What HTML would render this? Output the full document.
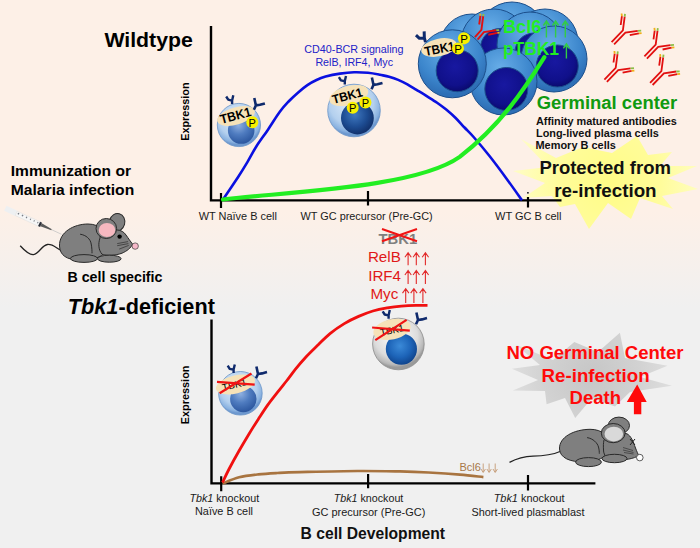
<!DOCTYPE html>
<html><head><meta charset="utf-8">
<style>
html,body{margin:0;padding:0;width:700px;height:548px;overflow:hidden;background:#f0f0f0}
svg{display:block}
text{font-family:"Liberation Sans",sans-serif}
.b{font-weight:bold}
</style></head><body>
<svg width="700" height="548" viewBox="0 0 700 548">
<defs>
<linearGradient id="bg" x1="0" y1="212" x2="0" y2="308" gradientUnits="userSpaceOnUse">
<stop offset="0" stop-color="#fdf0e7"/><stop offset="1" stop-color="#f0f0f0"/>
</linearGradient>
<radialGradient id="cellOut" cx="0.45" cy="0.35" r="0.6">
<stop offset="0" stop-color="#e2eefa"/><stop offset="0.7" stop-color="#b4d0ee"/><stop offset="0.92" stop-color="#8ab2e0"/><stop offset="1" stop-color="#6d98cf"/>
</radialGradient>
<radialGradient id="cellGray" cx="0.45" cy="0.35" r="0.6">
<stop offset="0" stop-color="#ffffff"/><stop offset="0.7" stop-color="#dcdcdc"/><stop offset="0.92" stop-color="#b8b8b8"/><stop offset="1" stop-color="#9a9a9a"/>
</radialGradient>
<radialGradient id="nucA" cx="0.4" cy="0.3" r="0.7">
<stop offset="0" stop-color="#8fb0e0"/><stop offset="0.5" stop-color="#4f7cc0"/><stop offset="1" stop-color="#2d58a0"/>
</radialGradient>
<radialGradient id="nucB" cx="0.42" cy="0.4" r="0.62">
<stop offset="0" stop-color="#3f78c0"/><stop offset="0.6" stop-color="#1d4c92"/><stop offset="1" stop-color="#11306a"/>
</radialGradient>
<radialGradient id="nucC" cx="0.45" cy="0.4" r="0.6">
<stop offset="0" stop-color="#3b8ad8"/><stop offset="0.6" stop-color="#1d64b8"/><stop offset="1" stop-color="#10458e"/>
</radialGradient>
<radialGradient id="gcOut" cx="0.45" cy="0.3" r="0.65">
<stop offset="0" stop-color="#68aee8"/><stop offset="0.7" stop-color="#3c86cc"/><stop offset="1" stop-color="#2e6fb6"/>
</radialGradient>
<radialGradient id="gcNuc" cx="0.45" cy="0.4" r="0.6">
<stop offset="0" stop-color="#1818a0"/><stop offset="0.75" stop-color="#10108a"/><stop offset="1" stop-color="#0a0a6e"/>
</radialGradient>
<radialGradient id="starY" cx="610" cy="182" r="95" gradientUnits="userSpaceOnUse">
<stop offset="0" stop-color="#fffc86"/><stop offset="0.5" stop-color="#fffc98"/><stop offset="1" stop-color="#fffdc4"/>
</radialGradient>
<radialGradient id="starG" cx="592" cy="375" r="80" gradientUnits="userSpaceOnUse">
<stop offset="0" stop-color="#c6c6c6"/><stop offset="0.6" stop-color="#d2d2d2"/><stop offset="1" stop-color="#dedede"/>
</radialGradient>
<path id="abN" d="M-5.6,-3.9 L-3.6,-0.7 L0,0.2 M1.5,-5.1 L0.3,0 L0.3,3.5" fill="none" stroke="#0f2a6c" stroke-width="2.4" stroke-linejoin="round"/>
<path id="abT" d="M-1.6,-7.4 L0,0 L4,-0.6 L9,-2 M0,0 L-2,4.3" fill="none" stroke="#0f2a6c" stroke-width="2.6" stroke-linejoin="round"/>
<g id="abR" fill="none" stroke-width="1.8">
<path d="M-12.4,10.6 L-1.1,-1.1 L0.7,-14.9 M-9.9,12.8 L1.4,1.1 L13.8,-0.7 M-3.3,-6.5 L-2.1,-15.3 M5.8,3.7 L14.9,1.9" stroke="#e21010"/>
<path d="M0.7,-14.9 L1,-17.6 M13.8,-0.7 L17.2,-0.9" stroke="#8cbf48"/>
<path d="M-2.1,-15.3 L-2.4,-18 M14.9,1.9 L17.6,1.6" stroke="#f0b018"/>
</g>
</defs>
<rect x="0" y="0" width="700" height="548" fill="url(#bg)"/>

<!-- yellow star -->
<polygon points="521,139 556,158 583,147 612,153 637,136 648,155 672,152 660,166 697,166 668,178 698,189 662,196 673,209 640,198 631,219 608,203 589,229 575,204 560,207 552,196 523,198 545,183 513,171 548,167" fill="url(#starY)"/>

<!-- ===== TOP CHART ===== -->
<path d="M211,26 L211,200.4 L561.5,200.4" fill="none" stroke="#000" stroke-width="2.4"/>
<rect x="527" y="192" width="1.8" height="1.6" fill="#333"/>
<path d="M221,193 L221,208 M368,191 L368,205.5 M528,197 L528,207.5" stroke="#000" stroke-width="2.2"/>

<text x="104.4" y="46.6" class="b" font-size="21" textLength="88.4" lengthAdjust="spacingAndGlyphs">Wildtype</text>
<text x="10.8" y="176.2" class="b" font-size="15.3" textLength="120.2" lengthAdjust="spacingAndGlyphs">Immunization or</text>
<text x="10.8" y="195" class="b" font-size="15.3" textLength="123.4" lengthAdjust="spacingAndGlyphs">Malaria infection</text>
<text x="67.4" y="281.9" class="b" font-size="14.6" textLength="95.1" lengthAdjust="spacingAndGlyphs">B cell specific</text>
<text x="67.8" y="313.7" class="b" font-size="21.5" textLength="147.1" lengthAdjust="spacingAndGlyphs"><tspan font-style="italic">Tbk1</tspan>-deficient</text>

<text transform="translate(188.5,111.6) rotate(-90)" text-anchor="middle" class="b" font-size="11" textLength="58.4" lengthAdjust="spacingAndGlyphs">Expression</text>
<text transform="translate(188.5,394.9) rotate(-90)" text-anchor="middle" class="b" font-size="11" textLength="58.7" lengthAdjust="spacingAndGlyphs">Expression</text>

<g font-size="11" fill="#1a1a1a">
<text x="198.7" y="220" textLength="78.3" lengthAdjust="spacingAndGlyphs">WT Naïve B cell</text>
<text x="300.6" y="219.7" textLength="132.1" lengthAdjust="spacingAndGlyphs">WT GC precursor (Pre-GC)</text>
<text x="495" y="220" textLength="66.5" lengthAdjust="spacingAndGlyphs">WT GC B cell</text>
</g>

<g font-size="10.7" fill="#2222c8">
<text x="304.3" y="53" textLength="99.3" lengthAdjust="spacingAndGlyphs">CD40-BCR signaling</text>
<text x="315.4" y="65.6" textLength="77.6" lengthAdjust="spacingAndGlyphs">RelB, IRF4, Myc</text>
</g>

<!-- GC cluster -->
<g stroke="#1c4f8c" stroke-width="1">
<circle cx="512" cy="36" r="34" fill="url(#gcOut)"/>
<circle cx="472" cy="46" r="32" fill="url(#gcOut)"/>
<circle cx="545" cy="42" r="33" fill="url(#gcOut)"/>
<circle cx="494" cy="42" r="33" fill="url(#gcOut)"/>
<circle cx="500" cy="48" r="19.5" fill="url(#gcNuc)"/>
<circle cx="530" cy="45" r="33" fill="url(#gcOut)"/>
<circle cx="534" cy="52" r="19" fill="url(#gcNuc)"/>
<circle cx="554" cy="59" r="33" fill="url(#gcOut)"/>
<circle cx="557.3" cy="66" r="21" fill="url(#gcNuc)"/>
<circle cx="503.5" cy="81.5" r="33.5" fill="url(#gcOut)"/>
<circle cx="506.3" cy="89" r="21.5" fill="url(#gcNuc)"/>
<circle cx="452.3" cy="63.8" r="34" fill="url(#gcOut)"/>
<circle cx="457.2" cy="70.7" r="21" fill="url(#gcNuc)"/>
</g>
<g transform="translate(482.5,31)" fill="none" stroke-width="1.9">
<path d="M-7.6,6.2 L-1.1,-1.1 L0.7,-14.9 M-4.9,8.6 L1.4,1.1 L13.8,-0.7 M-3.3,-6.5 L-2.1,-15.3 M5.8,3.7 L14.9,1.9" stroke="#e21010"/>
<path d="M0.7,-14.9 L0.95,-17 M13.8,-0.7 L16.8,-0.9" stroke="#8cbf48"/>
<path d="M-2.1,-15.3 L-2.35,-17.4 M14.9,1.9 L17.1,1.6" stroke="#f0b018"/>
</g>
<ellipse cx="439" cy="47.5" rx="18" ry="8.8" transform="rotate(-12 439 47.5)" fill="#f6e2b8"/>
<text transform="translate(425.5,56) rotate(-11)" class="b" font-size="13" textLength="30.5" lengthAdjust="spacingAndGlyphs">TBK1</text>
<circle cx="464" cy="38.3" r="6.1" fill="#f8f000"/>
<circle cx="458" cy="48.5" r="6" fill="#f8f000"/>
<text x="460.3" y="42.8" font-size="11.5">P</text>
<text x="454.3" y="53.2" font-size="11.5">P</text>
<use href="#abN" transform="translate(424,38) rotate(-15) scale(1.25)"/>

<!-- Bcl6 / pTBK1 -->
<g fill="#22ee22" class="b">
<text x="503" y="32.9" font-size="19" textLength="38.3" lengthAdjust="spacingAndGlyphs">Bcl6</text>
<text x="503" y="55.1" font-size="19" textLength="56" lengthAdjust="spacingAndGlyphs">pTBK1</text>
</g>
<g stroke="#33cc44" stroke-width="1.4" fill="none">
<path d="M546.4,37.4 V21.5 M543.4,25.5 L546.4,21 L549.4,25.5"/>
<path d="M555.6,37.4 V21.5 M552.6,25.5 L555.6,21 L558.6,25.5"/>
<path d="M565.3,37.4 V21.5 M562.3,25.5 L565.3,21 L568.3,25.5"/>
<path d="M566.4,58.6 V44.3 M563.4,48.3 L566.4,43.8 L569.4,48.3"/>
</g>

<!-- red antibodies -->
<use href="#abR" transform="translate(624,31.5)"/>
<use href="#abR" transform="translate(656.8,45.8)"/>
<use href="#abR" transform="translate(616.8,69)"/>
<use href="#abR" transform="translate(662.5,72.2)"/>

<!-- Germinal center texts -->
<text x="536.7" y="109.4" class="b" font-size="18" fill="#109a10" textLength="140.6" lengthAdjust="spacingAndGlyphs">Germinal center</text>
<g class="b" font-size="11" fill="#111">
<text x="536" y="124.5" textLength="140.8" lengthAdjust="spacingAndGlyphs">Affinity matured antibodies</text>
<text x="536" y="136.5" textLength="122.8" lengthAdjust="spacingAndGlyphs">Long-lived plasma cells</text>
<text x="535.5" y="149.4" textLength="80.3" lengthAdjust="spacingAndGlyphs">Memory B cells</text>
</g>
<g class="b" font-size="18.5" fill="#111">
<text x="539.4" y="174.3" textLength="131.5" lengthAdjust="spacingAndGlyphs">Protected from</text>
<text x="554.3" y="196.6" textLength="102.3" lengthAdjust="spacingAndGlyphs">re-infection</text>
</g>

<!-- cell 1 (WT naive) -->
<circle cx="238.9" cy="125" r="21.6" fill="url(#cellOut)" stroke="#6a94c8" stroke-width="0.8"/>
<circle cx="241.2" cy="130.5" r="13.3" fill="url(#nucA)"/>
<ellipse cx="236" cy="116" rx="19.5" ry="8.7" transform="rotate(-16 236 116)" fill="#f6e2b8"/>
<text transform="translate(221.5,124) rotate(-15)" class="b" font-size="13" textLength="31.5" lengthAdjust="spacingAndGlyphs">TBK1</text>
<circle cx="252.3" cy="122.3" r="6" fill="#f8f000"/>
<text x="248.6" y="126.8" font-size="11">P</text>
<use href="#abN" transform="translate(231.8,100.4)"/><use href="#abT" transform="translate(255.9,105.4)"/>

<!-- cell 2 (WT pre-GC) -->
<circle cx="354" cy="110.5" r="26.3" fill="url(#cellOut)" stroke="#6a94c8" stroke-width="0.8"/>
<circle cx="357.4" cy="118" r="16.4" fill="url(#nucB)"/>
<ellipse cx="348.8" cy="95.5" rx="20" ry="9.5" transform="rotate(-15 348.8 95.5)" fill="#f6e2b8"/>
<text transform="translate(333.5,104) rotate(-15)" class="b" font-size="12.5" textLength="31" lengthAdjust="spacingAndGlyphs">TBK1</text>
<circle cx="352.7" cy="107.7" r="6" fill="#f8f000"/>
<circle cx="365.4" cy="102.6" r="6" fill="#f8f000"/>
<text x="349" y="112.3" font-size="11">P</text>
<text x="361.7" y="107.2" font-size="11">P</text>
<use href="#abN" transform="translate(344.5,81)"/><use href="#abT" transform="translate(373.5,84.9)"/>

<!-- curves top -->
<path d="M223.0,199.5 C225.6,195.7 234.2,182.9 238.3,176.7 C242.4,170.5 244.4,167.1 247.4,162.1 C250.4,157.1 252.9,151.9 256.3,146.5 C259.7,141.1 263.9,135.7 267.8,129.9 C271.8,124.1 276.4,116.3 280.0,111.5 C283.6,106.7 286.1,104.2 289.1,101.0 C292.1,97.8 295.1,95.1 298.2,92.4 C301.2,89.8 304.3,87.2 307.4,85.1 C310.4,83.0 313.5,81.4 316.5,80.0 C319.5,78.6 321.7,77.7 325.6,76.6 C329.5,75.5 335.3,74.3 340.0,73.6 C344.7,72.9 349.3,72.4 354.0,72.3 C358.7,72.2 363.7,72.4 368.0,72.8 C372.3,73.2 376.5,74.1 380.0,74.8 C383.5,75.5 386.1,75.8 389.1,76.7 C392.1,77.6 395.1,78.6 398.2,79.9 C401.2,81.2 404.3,82.7 407.4,84.4 C410.4,86.1 413.5,88.1 416.5,89.9 C419.5,91.7 422.2,93.2 425.6,95.4 C429.0,97.6 433.7,100.4 437.1,102.8 C440.5,105.2 443.1,107.1 446.2,109.6 C449.2,112.1 452.3,114.8 455.4,117.8 C458.4,120.8 461.5,124.3 464.5,127.5 C467.5,130.7 469.4,132.2 473.6,137.0 C477.8,141.8 483.9,148.9 489.5,156.0 C495.1,163.1 501.7,172.0 507.1,179.4 C512.5,186.8 519.5,196.8 522.0,200.3" fill="none" stroke="#0a10e0" stroke-width="2.6"/>
<path d="M223.0,199.5 C284.1,192.0 415.3,188.4 459.7,156.9 C501.0,125.0 524.7,88.7 544.4,57.2" fill="none" stroke="#22ee22" stroke-width="4.2" stroke-linecap="round"/>

<!-- ===== LOWER CHART ===== -->
<!-- gray star -->
<polygon points="515.4,344.5 553,360 574.3,341.9 598,352 619.9,332.8 625,358 667.5,365.7 640,377 671.9,385.7 630,392 615,406.5 592,398 575.2,418.1 565,398 546.6,404.3 545,391 512.8,390.4 538,380 511.9,368.7 540,365" fill="url(#starG)"/>
<g class="b" font-size="18.5" fill="#ff0a0a">
<text x="506.5" y="358.9" textLength="177" lengthAdjust="spacingAndGlyphs">NO Germinal Center</text>
<text x="541.6" y="382.3" textLength="108" lengthAdjust="spacingAndGlyphs">Re-infection</text>
<text x="569.5" y="404.2" textLength="51.5" lengthAdjust="spacingAndGlyphs">Death</text>
</g>
<polygon points="637.2,384.6 646.7,402.1 641.3,402.1 641.3,414.3 633.9,414.3 633.9,402.1 626.8,402.1" fill="#ff0a0a"/>

<path d="M211.5,319.6 L211.5,483.4 L595.4,483.4" fill="none" stroke="#000" stroke-width="2.4"/>
<path d="M221.2,476.3 L221.2,491.2 M368.1,474 L368.1,488.3 M528,474.9 L528,490.4" stroke="#000" stroke-width="2.2"/>

<g font-size="11" fill="#1a1a1a">
<text x="189.4" y="501.7" textLength="69.8" lengthAdjust="spacingAndGlyphs"><tspan font-style="italic">Tbk1</tspan> knockout</text>
<text x="195" y="515.2" textLength="58" lengthAdjust="spacingAndGlyphs">Naïve B cell</text>
<text x="333.8" y="502" textLength="69.5" lengthAdjust="spacingAndGlyphs"><tspan font-style="italic">Tbk1</tspan> knockout</text>
<text x="311.9" y="515.7" textLength="113.4" lengthAdjust="spacingAndGlyphs">GC precursor (Pre-GC)</text>
<text x="493.7" y="502.3" textLength="70.9" lengthAdjust="spacingAndGlyphs"><tspan font-style="italic">Tbk1</tspan> knockout</text>
<text x="471.5" y="515.5" textLength="113" lengthAdjust="spacingAndGlyphs">Short-lived plasmablast</text>
</g>
<text x="300.6" y="539.3" class="b" font-size="16.5" fill="#111" textLength="144.5" lengthAdjust="spacingAndGlyphs">B cell Development</text>

<!-- TBK1 struck + RelB etc -->
<text x="378.6" y="243.5" class="b" font-size="15" fill="#7f7f7f" textLength="38.6" lengthAdjust="spacingAndGlyphs">TBK1</text>
<path d="M382,229 L417,241.3 M382,241.3 L417,229" stroke="#f01414" stroke-width="2"/>
<g font-size="14.5" fill="#e01818">
<text x="367.9" y="261.9" textLength="32.9" lengthAdjust="spacingAndGlyphs">RelB</text>
<text x="368.2" y="280.8" textLength="32.8" lengthAdjust="spacingAndGlyphs">IRF4</text>
<text x="370.4" y="298.8" textLength="27.9" lengthAdjust="spacingAndGlyphs">Myc</text>
</g>
<g stroke="#e22a2a" stroke-width="1.1" fill="none">
<path d="M408.1,265.2 V253.3 M404.90000000000003,257.3 L408.1,252.8 L411.3,257.3 M416.3,265.2 V253.3 M413.1,257.3 L416.3,252.8 L419.5,257.3 M425.4,265.2 V253.3 M422.2,257.3 L425.4,252.8 L428.59999999999997,257.3"/>
<path d="M408.1,284 V271.0 M404.90000000000003,275.0 L408.1,270.5 L411.3,275.0 M416.3,284 V271.0 M413.1,275.0 L416.3,270.5 L419.5,275.0 M425.4,284 V271.0 M422.2,275.0 L425.4,270.5 L428.59999999999997,275.0"/>
<path d="M405.7,302.9 V289.1 M402.5,293.1 L405.7,288.6 L408.9,293.1 M413.9,302.9 V289.1 M410.7,293.1 L413.9,288.6 L417.09999999999997,293.1 M422.9,302.9 V289.1 M419.7,293.1 L422.9,288.6 L426.09999999999997,293.1"/>
</g>

<!-- lower curves -->
<path d="M222.5,483.0 C225.3,481.9 233.1,478.2 239.1,476.7 C245.1,475.2 251.9,474.5 258.3,473.8 C264.7,473.1 270.4,472.8 277.4,472.4 C284.3,472.0 286.7,471.8 300.0,471.5 C313.3,471.2 340.7,470.5 357.4,470.4 C374.1,470.3 388.1,470.6 400.0,470.8 C411.9,471.1 418.6,471.4 428.6,471.9 C438.6,472.4 450.9,473.2 460.0,474.0 C469.1,474.8 479.5,476.1 483.4,476.5" fill="none" stroke="#a87440" stroke-width="2.7" transform="translate(0,0.6)"/>
<path d="M222.5,482.5 C223.7,480.1 226.8,473.3 229.6,468.0 C232.4,462.7 235.9,456.4 239.1,450.8 C242.3,445.2 245.5,439.8 248.7,434.5 C251.9,429.2 255.1,424.1 258.3,419.2 C261.5,414.3 264.6,409.4 267.8,404.9 C271.0,400.4 274.3,396.4 277.4,392.4 C280.5,388.4 283.4,384.9 286.5,381.0 C289.6,377.1 292.4,373.0 295.7,368.9 C299.0,364.8 302.8,360.4 306.4,356.5 C310.0,352.6 313.2,349.6 317.1,345.8 C321.0,342.0 325.5,337.3 330.0,333.6 C334.5,329.9 339.5,326.5 344.3,323.6 C349.1,320.7 353.8,318.5 358.6,316.4 C363.4,314.3 368.1,312.4 372.9,311.0 C377.6,309.6 382.4,308.7 387.1,307.9 C391.9,307.1 396.6,306.5 401.4,306.1 C406.2,305.7 411.3,305.5 415.7,305.4 C420.1,305.3 425.5,305.3 427.5,305.3" fill="none" stroke="#f01010" stroke-width="2.8"/>

<text x="459.4" y="470.7" font-size="11.8" fill="#a87848" textLength="21.4" lengthAdjust="spacingAndGlyphs">Bcl6</text>
<g stroke="#c49a74" stroke-width="0.9" fill="none"><path d="M483.2,463.5 V472 M481.0,469 L483.2,472.5 L485.4,469 M489.1,463.5 V472 M486.90000000000003,469 L489.1,472.5 L491.3,469 M495.2,463.5 V472 M493.0,469 L495.2,472.5 L497.4,469"/></g>

<!-- lower cell 1 -->
<circle cx="240.4" cy="393.3" r="21.8" fill="url(#cellOut)" stroke="#6a94c8" stroke-width="0.8"/>
<circle cx="243.3" cy="399" r="13.2" fill="url(#nucA)"/>
<ellipse cx="235.5" cy="384.4" rx="20" ry="9" transform="rotate(-14 235.5 384.4)" fill="#f6e2b8"/>
<text transform="translate(223,391) rotate(-14)" font-size="9.5" textLength="25" lengthAdjust="spacingAndGlyphs">TBK1</text>
<path d="M217,381.8 L254.7,384.6 M219.6,393.3 L251.5,373.5" stroke="#f01414" stroke-width="2.2"/>
<use href="#abN" transform="translate(233.3,369.5)"/><use href="#abT" transform="translate(258,374)"/>

<!-- lower cell 2 (gray) -->
<circle cx="398.4" cy="344" r="25.8" fill="url(#cellGray)" stroke="#8a8a8a" stroke-width="0.8"/>
<circle cx="401.4" cy="349.1" r="15.6" fill="url(#nucC)"/>
<ellipse cx="392" cy="329.4" rx="19" ry="10" transform="rotate(-12 392 329.4)" fill="#f6e2b8"/>
<text transform="translate(381,336) rotate(-12)" font-size="9.5" textLength="24" lengthAdjust="spacingAndGlyphs">TBK1</text>
<path d="M372.1,327.5 L409.8,330.7 M375.3,340.2 L406.6,319.8" stroke="#f01414" stroke-width="2.2"/>
<use href="#abN" transform="translate(388.3,315.2)"/><use href="#abT" transform="translate(418,320)"/>

<!-- ===== MOUSE 1 + syringe ===== -->
<g transform="translate(5.3,208.3) rotate(24.8)">
<rect x="0" y="-2.8" width="12" height="5.6" fill="#eef0f2"/>
<rect x="12" y="-2.4" width="26" height="4.8" fill="#f6f6f6" stroke="#dcdcdc" stroke-width="0.4"/>
<path d="M13.5,-0.6 h1.4 M18,-0.6 h1.4 M22.5,-0.6 h1.2 M27,-0.6 h1 M31,-0.6 h1 M35,-0.6 h1" stroke="#7a7e86" stroke-width="1.5"/>
<rect x="37.2" y="-2.4" width="2.2" height="4.8" fill="#2a2e38"/>
<path d="M39.4,-1.6 L51,-0.6 L51,0.6 L39.4,1.6 Z" fill="#5a5a5a"/>
<path d="M51,0 L62,0" stroke="#c4c4c4" stroke-width="0.7"/>
</g>
<path d="M20.2,245.7 C25,251 29,255 33.5,254.6 C39,254 42,245 47.5,244.5 C53,244 56,248 60,250" fill="none" stroke="#222" stroke-width="1.3"/>
<g stroke="#2a2a2a" stroke-width="1" fill="#7f7f7f">
<path d="M59.5,246 C59,232 74,224 88,224 C100,224 108,232 108,244 C108,256 96,260 80,260 C66,260 60,255 59.5,246 Z"/>
<path d="M80.1,234.2 C86,235 90.5,239 91.2,244 C92,248 92,251 92,253.3" fill="none"/>
<ellipse cx="117" cy="222.4" rx="7.8" ry="9" transform="rotate(15 117 222.4)"/>
<path d="M100,238 C100,232 108,229.5 116,229.8 C121,230 124,232 126,235 C128.5,238.5 130.5,241.5 132.5,244 C131,248 127,251 122,253.2 C116,255.5 106,256 102,254.2 C98.5,250 98,244 100,238 Z"/>
<ellipse cx="106.3" cy="228.5" rx="10.3" ry="10"/>
<ellipse cx="84" cy="258.5" rx="13.5" ry="3.9"/>
<ellipse cx="109.3" cy="258.7" rx="11.8" ry="3.5"/>
</g>
<ellipse cx="107" cy="230" rx="8.3" ry="7" fill="#f6b8c0"/>
<circle cx="119.6" cy="236.6" r="2.2" fill="#000"/>
<circle cx="135.2" cy="246.1" r="3.2" fill="#f6b8c8" stroke="#3a3a3a" stroke-width="0.7"/>
<path d="M117.2,243.6 L128,241.6 M117.2,245.7 L128.4,243.6 M119.2,249.1 L128.7,245.4" stroke="#333" stroke-width="0.75" fill="none"/>

<!-- ===== DEAD MOUSE ===== -->
<path d="M509.5,462.3 C518,458 526,456.5 533,456.2 C542,456 552,455 560,451.5" fill="none" stroke="#222" stroke-width="1.3"/>
<g stroke="#2a2a2a" stroke-width="1" fill="#7f7f7f">
<path d="M559.5,449 C559,437 574,429.5 590,429.3 C602,429.3 610,436 610,446 C610,456 598,462 584,462 C570,462 560,458 559.5,449 Z"/>
<path d="M587.1,437.6 C593,438.5 597.5,443 598.5,447 C599.3,450 599.3,452 599.3,453.7" fill="none"/>
<ellipse cx="618.9" cy="425.5" rx="10.6" ry="8.4"/>
<path d="M604,440 C607,434 618,432 627,433.8 C631,436 633,441 635.5,448 C637,452 638,454 638.8,455.6 C634,458.5 625,460.5 615,460 C608,459.5 603.5,456 603.5,450 C603.3,446 603.3,443 604,440 Z"/>
<ellipse cx="613.2" cy="433.1" rx="11.9" ry="9.6"/>
<ellipse cx="588.5" cy="462.1" rx="12.9" ry="4.5"/>
<ellipse cx="614.5" cy="458.5" rx="12.5" ry="4.2"/>
</g>
<ellipse cx="613.8" cy="434.1" rx="9.3" ry="7.4" fill="#d9d9d9"/>
<path d="M630,439 L635,445 M630,445 L635,439" stroke="#222" stroke-width="1"/>
<circle cx="639.8" cy="457.6" r="3.3" fill="#fff" stroke="#333" stroke-width="0.8"/>
<path d="M623,447.5 L633,450.5 M623,450 L633.5,452.5 M624,452.5 L633.5,454" stroke="#333" stroke-width="0.7" fill="none"/>

</svg>
</body></html>
